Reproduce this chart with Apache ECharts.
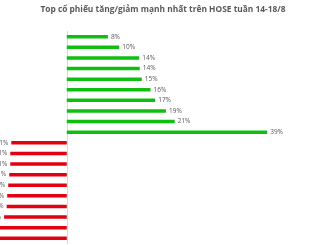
<!DOCTYPE html>
<html><head><meta charset="utf-8">
<script src="https://cdn.jsdelivr.net/npm/echarts@6/dist/echarts.min.js"></script>
<style>html,body{margin:0;padding:0;background:#fff}#c{width:326px;height:245px}</style>
</head><body><div id="c"></div>
<script>
const titleText = 'Top cổ phiếu tăng/giảm mạnh nhất trên HOSE tuần 14-18/8';
const categories = ['CP1','CP2','CP3','CP4','CP5','CP6','CP7','CP8','CP9','CP10',
                    'CP11','CP12','CP13','CP14','CP15','CP16','CP17','CP18','CP19','CP20'];
const gainers = [8.0, 10.2, 14.1, 14.2, 14.6, 16.3, 17.2, 19.3, 21.0, 39.0];
const losers = [-10.8, -11.0, -11.0, -11.2, -11.4, -11.6, -11.7, -12.2, -14.0, -15.0];

const gainData = gainers.concat(losers.map(() => null));
const loseData = gainers.map(() => null).concat(losers);
const fmt = p => (p.value < 0 ? '-' : '') + Math.round(Math.abs(p.value)) + '%';
const chart = echarts.init(document.getElementById('c'), null, {renderer:'canvas'});
chart.setOption({
  animation: false,
  title: {text: titleText, left: 'center', top: 1,
    textStyle: {fontFamily: 'Open Sans', fontWeight: 'bold', fontSize: 8.4, color: '#595959'}},
  grid: {left: 0, right: 28, top: 31.4, bottom: 1.4, containLabel: false},
  xAxis: {type: 'value', min: -13, max: 45, show: false},
  yAxis: {type: 'category', data: categories, inverse: true,
    axisLine: {show: true, onZero: true, lineStyle: {color: '#d9d9d9', width: 1}},
    axisTick: {show: false}, axisLabel: {show: false}, splitLine: {show: false}},
  series: [
    {type: 'bar', data: gainData, stack: 's', barWidth: 3.5, itemStyle: {color: '#0fbf0f'},
     label: {show: true, position: 'right', distance: 3, formatter: fmt,
       fontFamily: 'Open Sans', fontSize: 6.5, color: '#595959'}},
    {type: 'bar', data: loseData, stack: 's', barWidth: 3.5, itemStyle: {color: '#e3000f'},
     label: {show: true, position: 'left', distance: 3, formatter: fmt,
       fontFamily: 'Open Sans', fontSize: 6.5, color: '#595959'}}
  ]
});
</script></body></html>
